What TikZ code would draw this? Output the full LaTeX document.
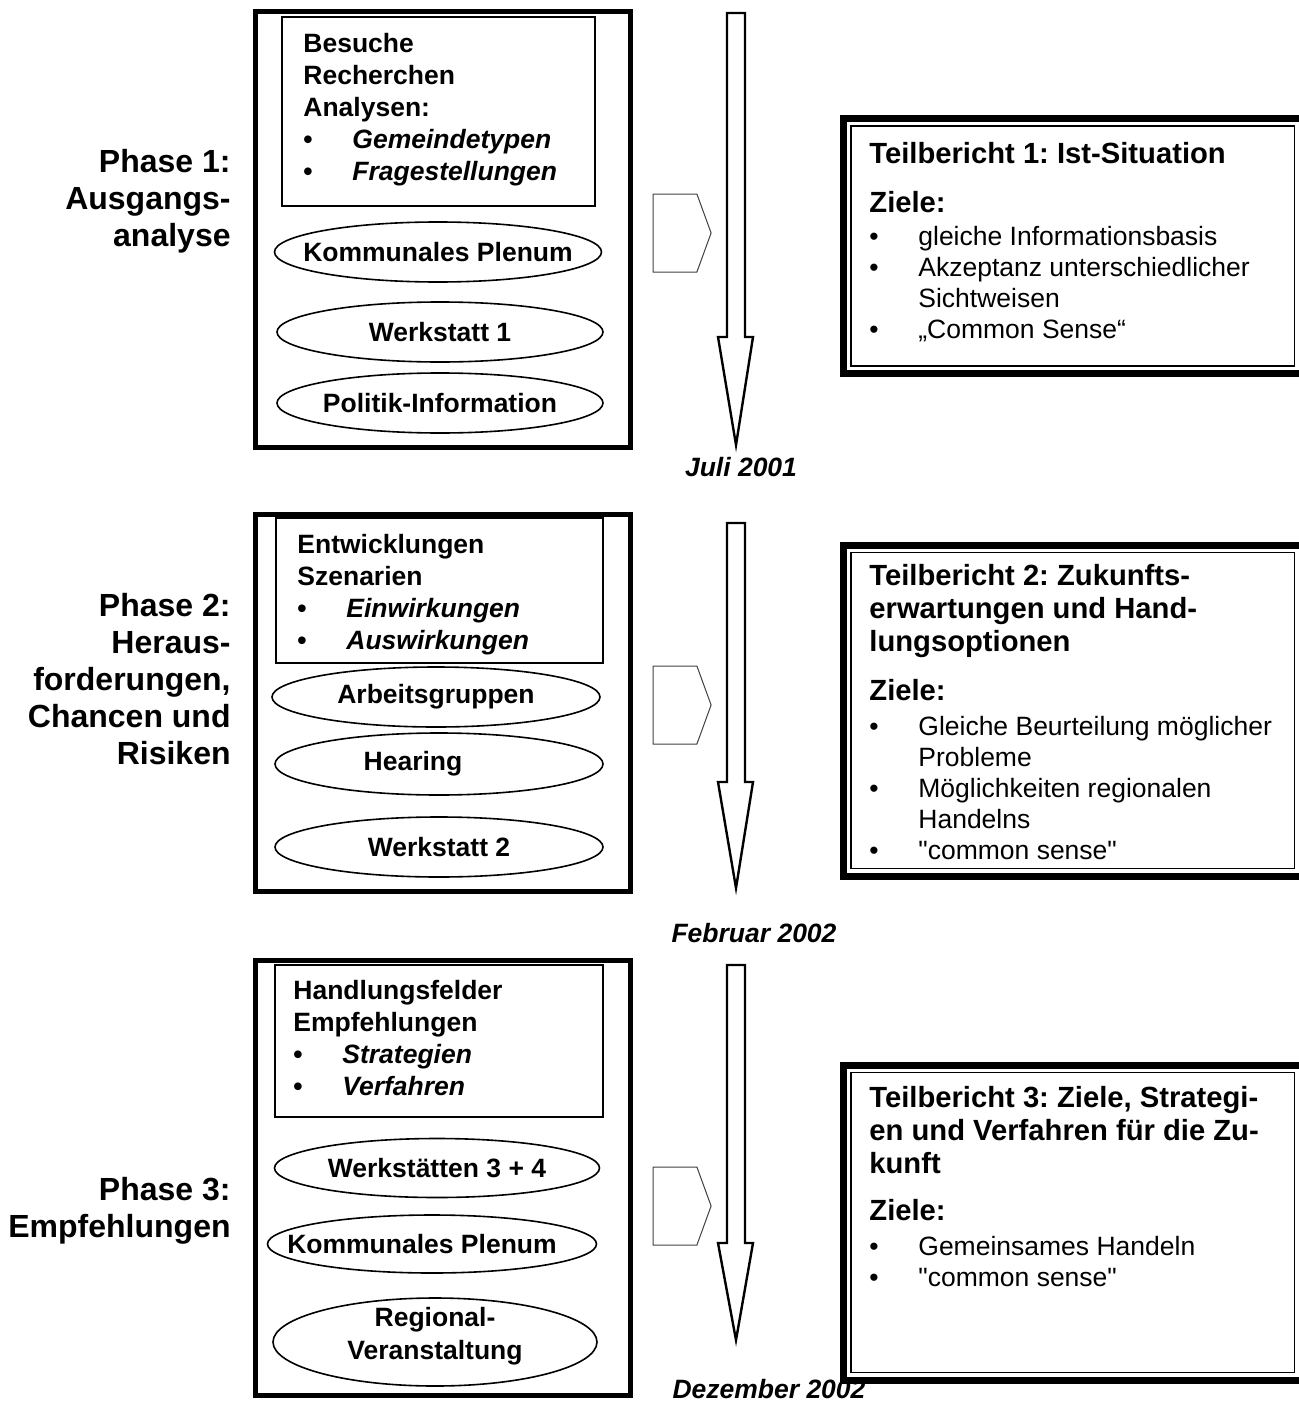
\documentclass[tikz,border=0pt]{standalone}
\usepackage{fontspec}
\setmainfont{Liberation Sans}[Ligatures=TeXOff]
\usetikzlibrary{shapes.geometric,shapes.symbols}
\frenchspacing

\newcommand{\lines}[2][l]{\begin{tabular}[t]{@{}#1@{}}#2\end{tabular}}
\newcommand{\pkt}[1]{\makebox[24.5pt][l]{\textbullet}#1}
\newcommand{\ind}{\hspace*{24.5pt}}

\begin{document}
\begin{tikzpicture}[x=0.5pt, y=-0.5pt,
      phasebox/.style={draw, line width=2.5pt, minimum width=187.5pt, inner sep=0pt},
      topicbox/.style={draw, line width=0.8pt, inner sep=0pt},
      evtext/.style={inner sep=0pt, align=center, font=\bfseries\fontsize{13.25pt}{16.5pt}\selectfont},
      event/.style={ellipse, draw, line width=0.8pt, inner sep=0pt, minimum height=30pt},
      evname/.style={label={[evtext]center:#1}},
      report/.style={draw, line width=3.5pt, outer sep=0pt, inner sep=0pt, minimum width=229.25pt},
      inner frame/.style={line width=0.6pt},
      handoff/.style={signal, signal to=east, signal pointer angle=140, draw=black!75,
                      line width=0.5pt, minimum width=29pt, minimum height=39pt, inner sep=0pt},
      flowarrow/.style={draw, line width=1.2pt, line join=miter},
      phase/.style={anchor=base east, inner sep=0pt, font=\bfseries\fontsize{16pt}{18.5pt}\selectfont},
      topic/.style={anchor=base west, inner sep=0pt, font=\bfseries\fontsize{13.25pt}{16pt}\selectfont},
      reptitle/.style={anchor=base west, inner sep=0pt, font=\bfseries\fontsize{14.6pt}{16.5pt}\selectfont},
      goals/.style={anchor=base west, inner sep=0pt, font=\fontsize{13.25pt}{15.5pt}\selectfont},
      date/.style={anchor=base, inner sep=0pt, font=\bfseries\itshape\fontsize{13.25pt}{15.5pt}\selectfont}
   ]
   \useasboundingbox (0,0) rectangle (1298,1402);

   % phase labels
   \node[phase] (l1) at (231,172) {\lines[r]{Phase 1:\\Ausgangs-\\analyse}};
   \node[phase] (l2) at (231,616) {\lines[r]{Phase 2:\\Heraus-\\forderungen,\\Chancen und\\Risiken}};
   \node[phase] (l3) at (231,1200) {\lines[r]{Phase 3:\\Empfehlungen}};

   % work boxes
   \node[phasebox, minimum height=217.5pt] (b1) at (442.5,229.5) {};
   \node[phasebox, minimum height=188.5pt] (b2) at (442.5,702.5) {};
   \node[phasebox, minimum height=217.5pt] (b3) at (442.5,1177.5) {};

   \node[topicbox, minimum width=156.5pt, minimum height=94.5pt] (k1) at (438.5,111.5) {};
   \node[topicbox, minimum width=163.5pt, minimum height=72.5pt] (k2) at (439.5,590.5) {};
   \node[topicbox, minimum width=164pt, minimum height=76pt] (k3) at (439,1041) {};

   \node[topic] (t1) at (303,53) {\lines{Besuche\\Recherchen\\Analysen:\\
      \pkt{\textit{Gemeindetypen}}\\\pkt{\textit{Fragestellungen}}}};
   \node[topic] (t2) at (297,553) {\lines{Entwicklungen\\Szenarien\\
      \pkt{\textit{Einwirkungen}}\\\pkt{\textit{Auswirkungen}}}};
   \node[topic] (t3) at (293,999) {\lines{Handlungsfelder\\Empfehlungen\\
      \pkt{\textit{Strategien}}\\\pkt{\textit{Verfahren}}}};

   \node[event, evname=Kommunales Plenum, minimum width=163.5pt] (e11) at (438,252) {};
   \node[event, evname=Werkstatt 1, minimum width=163pt] (e12) at (440,332) {};
   \node[event, evname=Politik-Information, minimum width=163pt] (e13) at (440,403) {};

   \node[event, evname=Arbeitsgruppen, minimum width=164pt] (e21) at (436,697) {};
   \node[event, label={[evtext, xshift=-13pt]center:Hearing}, minimum width=164pt,
         minimum height=31pt] (e22) at (439,764) {};
   \node[event, evname=Werkstatt 2, minimum width=164pt] (e23) at (439,847) {};

   \node[event, evname=Werkstätten 3 + 4, minimum width=162.5pt, minimum height=29.5pt] (e31) at (437,1168) {};
   \node[event, label={[evtext, xshift=-5pt]center:Kommunales Plenum}, minimum width=164.5pt,
         minimum height=29pt] (e32) at (432,1244) {};
   \node[event, label={[evtext, yshift=3pt]center:{Regional-\\Veranstaltung}}, minimum width=162pt,
         minimum height=44pt] (e33) at (435,1342) {};

   % hand-over marks and time arrows
   \node[handoff] (s1) at (675,233) {};
   \node[handoff] (s2) at (675,705) {};
   \node[handoff] (s3) at (675,1206) {};

   \foreach \t/\h/\e in {13/337/445, 523/782/888, 965/1243/1340}
      \draw[flowarrow] (727,\t) -- (745,\t) -- (745,\h) -- (753,\h) -- (736,\e)
         -- (718,\h) -- (727,\h) -- cycle;

   \node[date] (d1) at (741,476) {Juli 2001};
   \node[date] (d2) at (754,942) {Februar 2002};
   \node[date] (d3) at (769,1398) {Dezember 2002};

   % reports
   \node[report, minimum height=127.5pt] (r1) at (1072.75,246) {};
   \node[report, minimum height=165.5pt] (r2) at (1072.75,710.5) {};
   \node[report, minimum height=157.5pt] (r3) at (1072.75,1222.5) {};
   \foreach \r in {r1,r2,r3}
      \draw[inner frame] ([shift={(3.75pt,-3.75pt)}]\r.north west)
         rectangle ([shift={(-3.75pt,3.75pt)}]\r.south east);

   \node[reptitle] (h1) at (869,163) {Teilbericht 1: Ist-Situation};
   \node[reptitle] (z1) at (869,212) {Ziele:};
   \node[goals] (g1) at (869,245) {\lines{\pkt{gleiche Informationsbasis}\\
      \pkt{Akzeptanz unterschiedlicher}\\\ind Sichtweisen\\\pkt{„Common Sense“}}};

   \node[reptitle] (h2) at (869,585) {\lines{Teilbericht 2: Zukunfts-\\
      erwartungen und Hand-\\lungsoptionen}};
   \node[reptitle] (z2) at (869,700) {Ziele:};
   \node[goals] (g2) at (869,735) {\lines{\pkt{Gleiche Beurteilung möglicher}\\
      \ind Probleme\\\pkt{Möglichkeiten regionalen}\\\ind Handelns\\\pkt{"common sense"}}};

   \node[reptitle] (h3) at (869,1107) {\lines{Teilbericht 3: Ziele, Strategi-\\
      en und Verfahren für die Zu-\\kunft}};
   \node[reptitle] (z3) at (869,1220) {Ziele:};
   \node[goals] (g3) at (869,1255) {\lines{\pkt{Gemeinsames Handeln}\\\pkt{"common sense"}}};
\end{tikzpicture}
\end{document}
